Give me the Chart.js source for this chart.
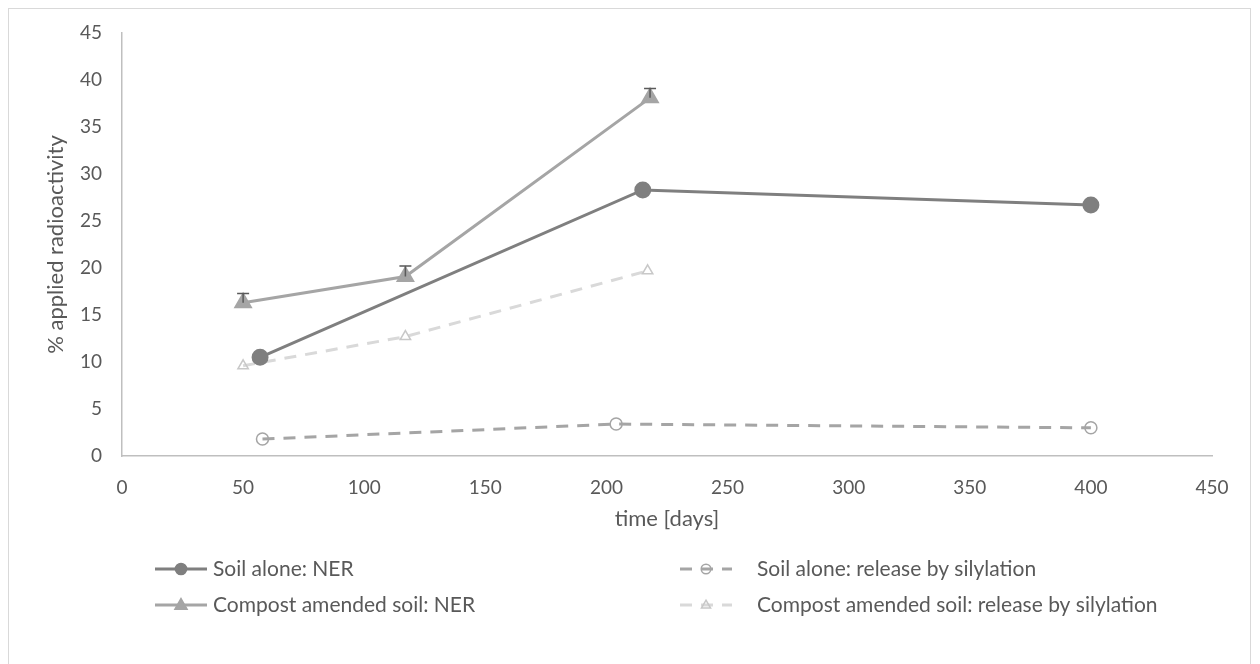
<!DOCTYPE html>
<html>
<head>
<meta charset="utf-8">
<script src="https://cdn.jsdelivr.net/npm/chart.js@4"></script>
<style>
  body { margin: 0; background: #fff; }
  #wrap { position: absolute; left: 0; top: 0; width: 1260px; height: 664px; }
  #frame { position: absolute; left: 8px; top: 8px; width: 1243px; height: 660px; border: 1px solid #d9d9d9; box-sizing: border-box; }
</style>
</head>
<body>
<div id="wrap">
  <div id="frame"></div>
  <canvas id="chart" width="1260" height="664"></canvas>
</div>
<script>
// days and % applied radioactivity per series
const soilNerDays = [57, 215, 400];
const soilNerValues = [10.5, 28.3, 26.7];
const soilSilDays = [58, 204, 400];
const soilSilValues = [1.8, 3.4, 3.0];
const compNerDays = [50, 117, 218];
const compNerValues = [16.3, 19.1, 38.1];
const compNerErr = [1.0, 1.1, 1.0];
const compSilDays = [50, 117, 217];
const compSilValues = [9.6, 12.7, 19.7];

const seriesNames = [
  'Soil alone: NER',
  'Compost amended soil: NER',
  'Soil alone: release by silylation',
  'Compost amended soil: release by silylation'
];

const textColor = '#595959';
const fontFamily = 'Lato, "Open Sans", sans-serif';

const toPoints = (xs, ys) => xs.map((x, i) => ({ x, y: ys[i] }));

// plus error bars for the compost NER series
const errorBars = {
  id: 'errorBars',
  afterDatasetsDraw(chart) {
    const meta = chart.getDatasetMeta(1);
    const ys = chart.scales.y;
    const ctx = chart.ctx;
    ctx.save();
    ctx.strokeStyle = '#5a5a5a';
    ctx.lineWidth = 1.5;
    meta.data.forEach((pt, i) => {
      const top = ys.getPixelForValue(compNerValues[i] + compNerErr[i]);
      ctx.beginPath();
      ctx.moveTo(pt.x, pt.y);
      ctx.lineTo(pt.x, top);
      ctx.moveTo(pt.x - 6, top);
      ctx.lineTo(pt.x + 6, top);
      ctx.stroke();
    });
    ctx.restore();
  }
};

function marker(ctx, style, x, y, r, fill, stroke) {
  ctx.beginPath();
  if (style === 'circle') {
    ctx.arc(x, y, r, 0, Math.PI * 2);
  } else {
    ctx.moveTo(x, y - r);
    ctx.lineTo(x + r * 0.95, y + r * 0.65);
    ctx.lineTo(x - r * 0.95, y + r * 0.65);
    ctx.closePath();
  }
  if (fill) { ctx.fillStyle = fill; ctx.fill(); }
  if (stroke) { ctx.strokeStyle = stroke; ctx.lineWidth = 1.5; ctx.stroke(); }
}

// legend laid out in two columns under the plot
const bottomLegend = {
  id: 'bottomLegend',
  afterDraw(chart) {
    const ctx = chart.ctx;
    const ds = chart.data.datasets;
    const slots = [
      { x: 155, y: 569 }, { x: 155, y: 605 },
      { x: 680, y: 569 }, { x: 680, y: 605 }
    ];
    ctx.save();
    ds.forEach((d, i) => {
      const s = slots[i];
      ctx.strokeStyle = d.borderColor;
      ctx.lineWidth = 3;
      ctx.setLineDash(d.borderDash || []);
      ctx.beginPath();
      ctx.moveTo(s.x, s.y);
      ctx.lineTo(s.x + 52, s.y);
      ctx.stroke();
      ctx.setLineDash([]);
      const r = d.pointRadius * 0.8;
      marker(ctx, d.pointStyle === 'triangle' ? 'triangle' : 'circle', s.x + 26, s.y, r,
        d.pointBackgroundColor === 'transparent' ? null : d.pointBackgroundColor,
        d.pointBorderColor);
      ctx.fillStyle = textColor;
      ctx.font = '21px ' + fontFamily;
      ctx.textBaseline = 'middle';
      ctx.fillText(seriesNames[i], s.x + (i < 2 ? 58 : 77), s.y);
    });
    ctx.restore();
  }
};

new Chart(document.getElementById('chart'), {
  type: 'scatter',
  data: {
    datasets: [
      {
        label: seriesNames[0],
        data: toPoints(soilNerDays, soilNerValues),
        showLine: true,
        borderColor: '#7f7f7f',
        borderWidth: 3,
        pointStyle: 'circle',
        pointRadius: 7,
        pointBackgroundColor: '#7f7f7f',
        pointBorderColor: '#7f7f7f'
      },
      {
        label: seriesNames[1],
        data: toPoints(compNerDays, compNerValues),
        showLine: true,
        borderColor: '#a5a5a5',
        borderWidth: 3,
        pointStyle: 'triangle',
        pointRadius: 8,
        pointBackgroundColor: '#a5a5a5',
        pointBorderColor: '#a5a5a5'
      },
      {
        label: seriesNames[2],
        data: toPoints(soilSilDays, soilSilValues),
        showLine: true,
        borderColor: '#a5a5a5',
        borderWidth: 3,
        borderDash: [12, 9],
        pointStyle: 'circle',
        pointRadius: 6,
        pointBorderWidth: 1.5,
        pointBackgroundColor: 'transparent',
        pointBorderColor: '#a5a5a5'
      },
      {
        label: seriesNames[3],
        data: toPoints(compSilDays, compSilValues),
        showLine: true,
        borderColor: '#d9d9d9',
        borderWidth: 3,
        borderDash: [12, 9],
        pointStyle: 'triangle',
        pointRadius: 6,
        pointBorderWidth: 1.5,
        pointBackgroundColor: 'transparent',
        pointBorderColor: '#c8c8c8'
      }
    ]
  },
  options: {
    responsive: false,
    animation: false,
    layout: { padding: { left: 0, top: 33, right: 48, bottom: 128 } },
    plugins: {
      legend: { display: false },
      tooltip: { enabled: false }
    },
    scales: {
      x: {
        type: 'linear',
        min: 0,
        max: 450,
        ticks: { stepSize: 50, color: textColor, font: { size: 19, family: fontFamily }, padding: 20 },
        grid: { display: false, drawTicks: false },
        border: { color: '#bfbfbf', width: 1.5 },
        title: { display: true, text: 'time [days]', color: textColor, font: { size: 22, family: fontFamily }, padding: { top: 12 } },
        afterFit: s => { s.height = 80; }
      },
      y: {
        min: 0,
        max: 45,
        ticks: { stepSize: 5, color: textColor, font: { size: 19, family: fontFamily }, padding: 20 },
        grid: { display: false, drawTicks: false },
        border: { color: '#bfbfbf', width: 1.5 },
        title: { display: true, text: '% applied radioactivity', color: textColor, font: { size: 22, family: fontFamily }, padding: { top: 43 } },
        afterFit: s => { s.width = 122; }
      }
    }
  },
  plugins: [errorBars, bottomLegend]
});
</script>
</body>
</html>
